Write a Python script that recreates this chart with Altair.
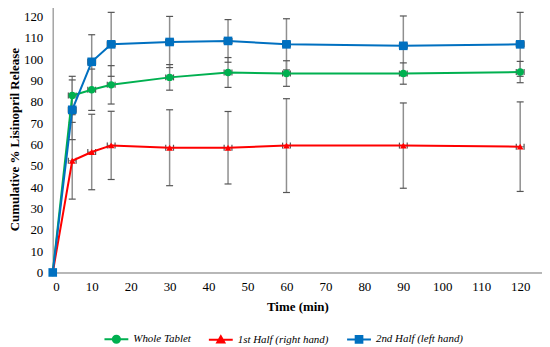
import altair as alt
import pandas as pd

series = ["Whole Tablet", "1st Half (right hand)", "2nd Half (left hand)"]
colors = ["#00b050", "#ff0000", "#0070c0"]
times = [0, 5, 10, 15, 30, 45, 60, 90, 120]

whole_mean = [0, 83.0, 85.7, 88.0, 91.5, 93.8, 93.3, 93.3, 94.0]
whole_err = [0, 9.0, 9.7, 9.0, 6.0, 7.0, 6.0, 5.0, 5.0]
first_mean = [0, 52.4, 56.5, 59.6, 58.5, 58.5, 59.5, 59.5, 59.0]
first_err = [0, 18.0, 17.7, 16.0, 17.8, 17.0, 22.0, 20.0, 21.0]
second_mean = [0, 76.3, 98.8, 107.0, 108.1, 108.6, 107.0, 106.3, 107.0]
second_err = [0, 14.0, 12.7, 15.0, 12.0, 10.0, 12.0, 14.0, 15.0]

x_ticks = list(range(0, 121, 10))
y_ticks = list(range(0, 121, 10))

means = [whole_mean, first_mean, second_mean]
errs = [whole_err, first_err, second_err]

rows = []
for s, m, e in zip(series, means, errs):
    for t, v, d in zip(times, m, e):
        rows.append({"series": s, "time": t, "value": v, "err": d,
                     "lo": v - d, "hi": v + d, "tlo": t - 1, "thi": t + 1})
df = pd.DataFrame(rows)

FONT = "Liberation Serif"
xscale = alt.Scale(domain=[0, 125.6], nice=False, zero=False)
yscale = alt.Scale(domain=[0, 125], nice=False)

xaxis = alt.Axis(values=x_ticks, title="Time (min)", titleFont=FONT, titleFontSize=13,
                 titleFontWeight="bold", titleColor="black", titleY=34, titleBaseline="middle",
                 labelFont=FONT, labelFontSize=13, labelColor="black", labelPadding=8,
                 ticks=False, grid=False, domainColor="#a6a6a6", domainWidth=1.5)
yaxis = alt.Axis(values=y_ticks, title="Cumulative % Lisinopril Release", titleFont=FONT,
                 titleFontSize=13, titleFontWeight="bold", titleColor="black",
                 titleX=-38, titleY=134, titleBaseline="middle", titleAlign="center",
                 labelFont=FONT, labelFontSize=13, labelColor="black", labelPadding=10,
                 ticks=False, grid=False, domainColor="#a6a6a6", domainWidth=1.5)


def X(field):
    return alt.X(f"{field}:Q", scale=xscale, axis=xaxis)


def Y(field):
    return alt.Y(f"{field}:Q", scale=yscale, axis=yaxis)


base = alt.Chart(df)
errdata = base.transform_filter("datum.err > 0")

v_rules = errdata.mark_rule(color="#8f8f8f", strokeWidth=1.5).encode(
    x=X("time"), y=Y("lo"), y2="hi")
cap_lo = errdata.mark_point(shape="stroke", size=49, color="#555555", strokeWidth=1.2,
                            opacity=1).encode(x=X("time"), y=Y("lo"))
cap_hi = errdata.mark_point(shape="stroke", size=49, color="#555555", strokeWidth=1.2,
                            opacity=1).encode(x=X("time"), y=Y("hi"))
h_rules = errdata.mark_rule(color="#8f8f8f", strokeWidth=1.2).encode(
    x=X("tlo"), x2="thi", y=Y("value"))
vpath = "M0,-1L0,1"
cap_l = errdata.mark_point(shape=vpath, size=36, color="#555555", strokeWidth=1.2,
                           opacity=1).encode(x=X("tlo"), y=Y("value"))
cap_r = errdata.mark_point(shape=vpath, size=36, color="#555555", strokeWidth=1.2,
                           opacity=1).encode(x=X("thi"), y=Y("value"))

marker_shapes = ["circle", "triangle-up", "square"]
marker_sizes = [55, 45, 75]
lines = []
points = []
for s, c, sh, sz in zip(series, colors, marker_shapes, marker_sizes):
    sub = base.transform_filter(alt.datum.series == s)
    lines.append(sub.mark_line(strokeWidth=2, color=c).encode(x=X("time"), y=Y("value")))
    points.append(sub.mark_point(shape=sh, size=sz, filled=True, color=c, opacity=1)
                  .encode(x=X("time"), y=Y("value")))

cscale = alt.Scale(domain=series, range=colors)
legend_paths = [
    "M-1,0L1,0M0.3,0A0.3,0.3,0,1,1,-0.3,0A0.3,0.3,0,1,1,0.3,0Z",
    "M-1,0L1,0M0,-0.3L0.3,0.22L-0.3,0.22Z",
    "M-1,0L1,0M-0.28,-0.28L0.28,-0.28L0.28,0.28L-0.28,0.28Z",
]
leg = alt.Legend(orient="none", legendX=51, legendY=322, direction="horizontal", title=None,
                 symbolSize=576, symbolStrokeWidth=2, labelFont=FONT, labelFontStyle="italic",
                 labelFontSize=11, labelColor="black", labelOffset=4, columnPadding=14,
                 padding=0, symbolOpacity=1)
legend_layer = base.mark_point(filled=True, strokeWidth=2, opacity=1).encode(
    x=alt.value(-300), y=alt.value(-300),
    color=alt.Color("series:N", scale=cscale, legend=leg),
    stroke=alt.Stroke("series:N", scale=cscale, legend=leg),
    shape=alt.Shape("series:N", scale=alt.Scale(domain=series, range=legend_paths), legend=leg),
)

chart = alt.layer(v_rules, h_rules, cap_lo, cap_hi, cap_l, cap_r, *lines, *points, legend_layer).properties(
    width=492, height=268,
    autosize=alt.AutoSizeParams(type="none"),
    padding={"left": 45, "top": -3, "right": 0, "bottom": 72},
).configure_view(stroke=None).configure(background="white")

chart.save("out.html", embed_options={"renderer": "svg", "actions": False})
